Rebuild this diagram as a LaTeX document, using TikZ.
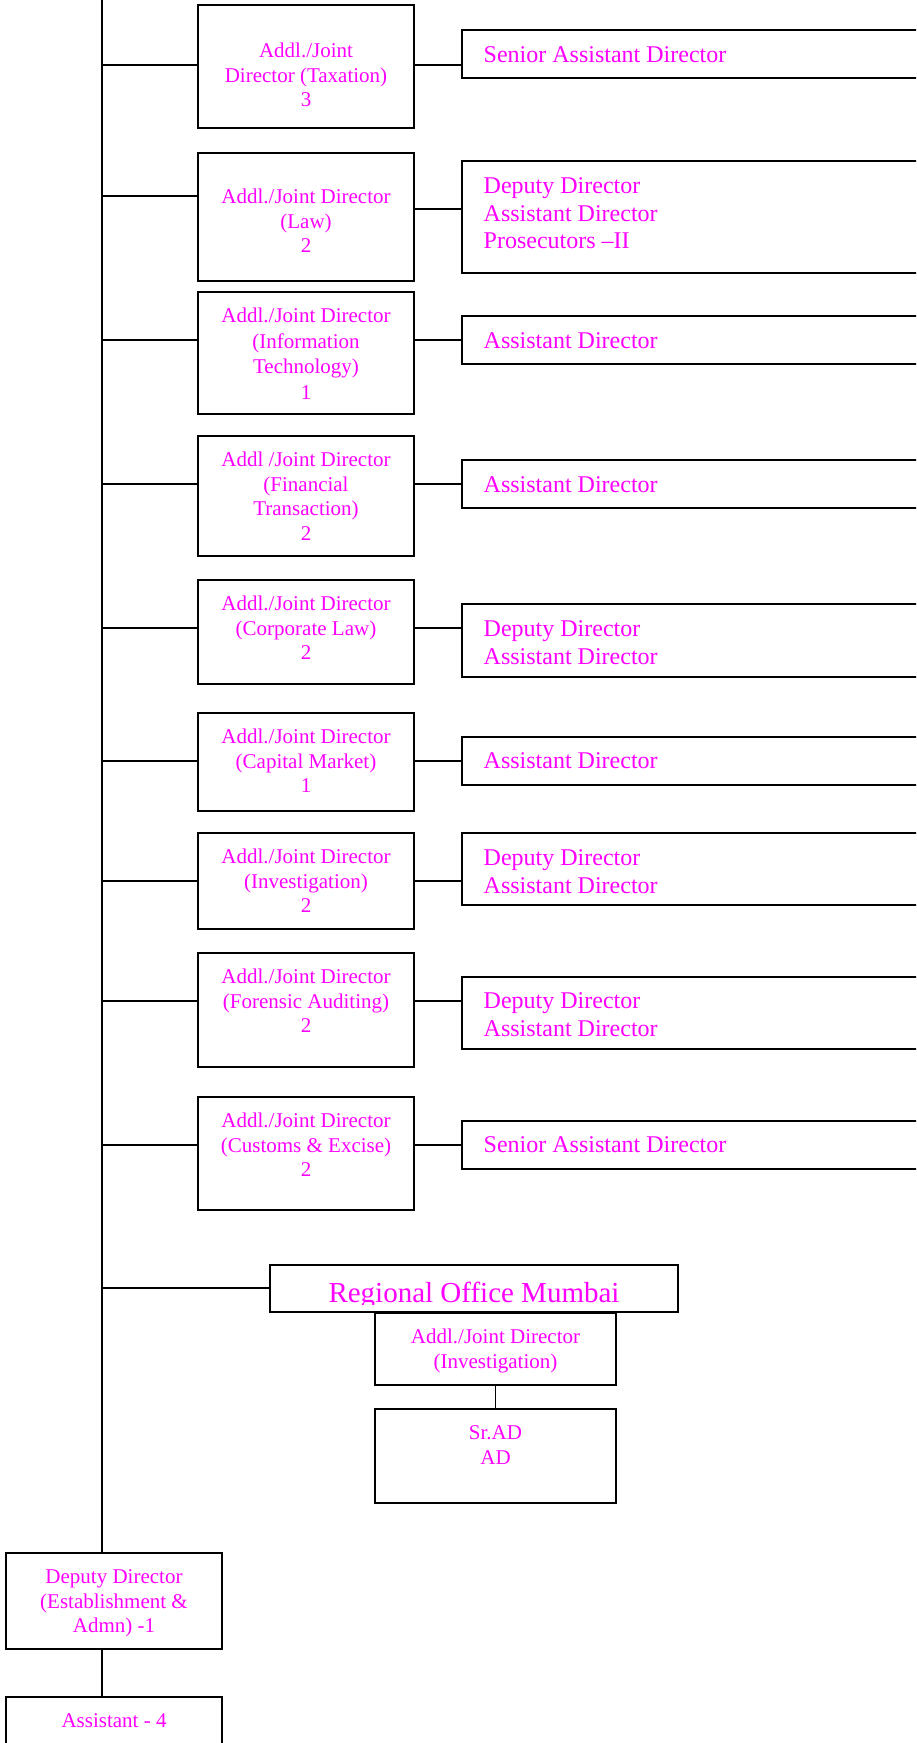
\documentclass[tikz,border=0pt]{standalone}
\usepackage{fontspec}
\setmainfont{Liberation Serif}
\definecolor{mag}{RGB}{255,0,255}
\newcommand\mkbox[5]{\node[box, minimum width=#4pt-#2pt, minimum height=#5pt-#3pt] (#1) at (#2,#3) {};}
\newcommand\rowlink[4]{%
  \path (0,#3) coordinate (tmpy);
  \draw (trunk |- tmpy) -- (#1.west |- tmpy);
  \path (0,#4) coordinate (tmpz);
  \draw (#1.east |- tmpz) -- (#2.west |- tmpz);}
\begin{document}
\begin{tikzpicture}[x=1pt,y=-1pt,line width=1.4pt,
  box/.style={draw=black, line width=1.4pt, fill=white, inner sep=0pt, outer sep=0pt, anchor=north west, shape=rectangle},
  ltext/.style={text=mag, font=\fontsize{21}{24.5}\selectfont, align=center, inner sep=0pt, anchor=north},
  rtext/.style={text=mag, font=\fontsize{24}{27.5}\selectfont, align=left, inner sep=0pt, anchor=north west},
]
\useasboundingbox (0,0) rectangle (916,1743);
\clip (0,0) rectangle (916,1743);
\coordinate (trunk) at (102,-5);

% left boxes
\mkbox{tax}{198}{5}{414}{128}
\mkbox{law}{198}{153}{414}{281}
\mkbox{it}{198}{292}{414}{414}
\mkbox{fin}{198}{436}{414}{556}
\mkbox{corp}{198}{580}{414}{684}
\mkbox{cap}{198}{713}{414}{811}
\mkbox{inv}{198}{833}{414}{929}
\mkbox{for}{198}{953}{414}{1067}
\mkbox{cus}{198}{1097}{414}{1210}

% right boxes
\mkbox{r1}{462}{30}{940}{78}
\mkbox{r2}{462}{161}{940}{273}
\mkbox{r3}{462}{316}{940}{364}
\mkbox{r4}{462}{460}{940}{508}
\mkbox{r5}{462}{604}{940}{677}
\mkbox{r6}{462}{737}{940}{785}
\mkbox{r7}{462}{833}{940}{905}
\mkbox{r8}{462}{977}{940}{1049}
\mkbox{r9}{462}{1121}{940}{1169}

% regional office
\mkbox{reg}{270}{1265}{678}{1312}
\begin{scope}
\clip (270,1265) rectangle (678,1304);
\node[text=mag, font=\fontsize{29}{33}\selectfont, inner sep=0pt, anchor=base] (regT) at (474,1302) {Regional Office Mumbai};
\end{scope}
\mkbox{sub}{375}{1313}{616}{1385}
\mkbox{sr}{375}{1409}{616}{1503}
\mkbox{dd}{6}{1553}{222}{1649}
\mkbox{asst}{6}{1697}{222}{1760}

% texts in left boxes
\node[ltext] (taxT) at (306,39.85) {\strut Addl./Joint\\Director (Taxation)\\3};
\node[ltext] (lawT) at (306,185.85) {\strut Addl./Joint Director\\(Law)\\2};
\node[ltext, font=\fontsize{21}{25.5}\selectfont] (itT) at (306,304.15) {\strut Addl./Joint Director\\(Information\\Technology)\\1};
\node[ltext] (finT) at (306,448.85) {\strut Addl /Joint Director\\(Financial\\Transaction)\\2};
\node[ltext] (corpT) at (306,592.85) {\strut Addl./Joint Director\\(Corporate Law)\\2};
\node[ltext] (capT) at (306,725.85) {\strut Addl./Joint Director\\(Capital Market)\\1};
\node[ltext] (invT) at (306,845.85) {\strut Addl./Joint Director\\(Investigation)\\2};
\node[ltext] (forT) at (306,965.85) {\strut Addl./Joint Director\\(Forensic Auditing)\\2};
\node[ltext] (cusT) at (306,1109.85) {\strut Addl./Joint Director\\(Customs \& Excise)\\2};

% texts in right boxes
\node[rtext] (r1T) at (483,42.75) {\strut Senior Assistant Director};
\node[rtext] (r2T) at (483,173.75) {\strut Deputy Director\\Assistant Director\\Prosecutors --II};
\node[rtext] (r3T) at (483,328.75) {\strut Assistant Director};
\node[rtext] (r4T) at (483,472.75) {\strut Assistant Director};
\node[rtext] (r5T) at (483,616.75) {\strut Deputy Director\\Assistant Director};
\node[rtext] (r6T) at (483,748.75) {\strut Assistant Director};
\node[rtext] (r7T) at (483,845.75) {\strut Deputy Director\\Assistant Director};
\node[rtext] (r8T) at (483,988.75) {\strut Deputy Director\\Assistant Director};
\node[rtext] (r9T) at (483,1132.75) {\strut Senior Assistant Director};

% other texts
\node[ltext] (subT) at (495.5,1325.85) {\strut Addl./Joint Director\\(Investigation)};
\node[ltext] (srT) at (495.5,1421.85) {\strut Sr.AD\\AD};
\node[ltext] (ddT) at (114,1565.85) {\strut Deputy Director\\(Establishment \&\\Admn) -1};
\node[ltext, anchor=base] (asstT) at (114,1727) {Assistant - 4};

% connectors
\draw (trunk) -- (trunk |- dd.north);
\draw (trunk |- dd.south) -- (trunk |- asst.north);
\draw (sub.south) -- (sr.north);
\rowlink{tax}{r1}{65}{65}
\rowlink{law}{r2}{196}{209}
\rowlink{it}{r3}{340}{340}
\rowlink{fin}{r4}{484}{484}
\rowlink{corp}{r5}{628}{628}
\rowlink{cap}{r6}{761}{761}
\rowlink{inv}{r7}{881}{881}
\rowlink{for}{r8}{1001}{1001}
\rowlink{cus}{r9}{1145}{1145}
\path (0,1288) coordinate (tmpy);
\draw (trunk |- tmpy) -- (reg.west |- tmpy);
\end{tikzpicture}
\end{document}
